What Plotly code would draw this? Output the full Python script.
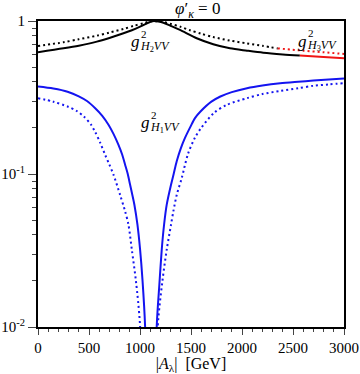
import plotly.graph_objects as go

# g^2_{H1VV} solid (blue)
h1_solid_A = [0, 150, 290, 400, 480, 561, 630, 691, 740, 789, 825, 854, 880, 903, 925, 945, 975, 1001, 1025, 1050, 1107,
              1164, 1190, 1213, 1236, 1262, 1304, 1330, 1360, 1400, 1441, 1495, 1539, 1593, 1700, 1788, 1900, 2049,
              2200, 2374, 2550, 2700, 2850, 3000]
h1_solid_v = [0.373, 0.362, 0.345, 0.322, 0.300, 0.269, 0.240, 0.210, 0.183, 0.155, 0.134, 0.115, 0.100, 0.085, 0.073,
              0.063, 0.0466, 0.032, 0.020, 0.0101, 0.0001,
              0.0101, 0.019, 0.032, 0.0466, 0.063, 0.085, 0.100, 0.121, 0.147, 0.172, 0.204, 0.232, 0.256, 0.297, 0.321,
              0.343, 0.364, 0.379, 0.392, 0.401, 0.408, 0.415, 0.421]

# g^2_{H1VV} dotted (blue)
h1_dot_A = [0, 150, 290, 380, 452, 520, 561, 610, 659, 700, 740, 805, 854, 887, 920, 960, 1001, 1090,
            1174, 1220, 1262, 1304, 1327, 1360, 1409, 1470, 1539, 1600, 1723, 1850, 2049, 2200, 2374, 2550, 2700,
            2850, 3000]
h1_dot_v = [0.313, 0.297, 0.276, 0.258, 0.237, 0.210, 0.188, 0.160, 0.133, 0.115, 0.099, 0.073, 0.057, 0.0466, 0.032,
            0.020, 0.0101, 0.0001,
            0.0101, 0.020, 0.032, 0.0466, 0.057, 0.073, 0.094, 0.135, 0.173, 0.200, 0.250, 0.283, 0.313, 0.333, 0.349,
            0.364, 0.377, 0.385, 0.392]

# g^2_{H2VV} solid (black)
h2_solid_A = [0, 250, 400, 577, 700, 838, 920, 1001, 1060, 1125, 1180, 1229, 1300, 1392, 1556, 1718, 1882, 2050,
              2208, 2400, 2567]
h2_solid_v = [0.625, 0.663, 0.690, 0.733, 0.775, 0.831, 0.870, 0.918, 0.960, 0.997, 0.992, 0.975, 0.930, 0.874, 0.771,
              0.705, 0.663, 0.640, 0.621, 0.605, 0.594]

# g^2_{H2VV} dotted (black)
h2_dot_A = [0, 250, 400, 577, 700, 838, 940, 1033, 1100, 1160, 1230, 1294, 1400, 1490, 1600, 1718, 1880, 2045, 2200,
            2350]
h2_dot_v = [0.687, 0.726, 0.760, 0.802, 0.840, 0.887, 0.930, 0.966, 0.995, 0.997, 0.985, 0.960, 0.915, 0.870, 0.825,
            0.785, 0.745, 0.715, 0.688, 0.662]

# g^2_{H3VV} (red)
h3_solid_A = [2567, 2800, 3000]
h3_solid_v = [0.594, 0.582, 0.570]
h3_dot_A = [2350, 2600, 2800, 3000]
h3_dot_v = [0.662, 0.640, 0.625, 0.609]

x_ticks = [0, 500, 1000, 1500, 2000, 2500, 3000]
y_ticks = [0.01, 0.1, 1]
y_ticktext = ["10<sup>-2</sup>", "10<sup>-1</sup>", "1"]

BLUE = "#1414f0"
RED = "#f01414"
BLACK = "#000000"
DOT = "2px,3px"

W, H = 360, 374
ML, MR, MT, MB = 38, 16, 21, 47
PW, PH = W - ML - MR, H - MT - MB

fig = go.Figure()


def add(xs, ys, color, dash):
    fig.add_trace(go.Scatter(x=xs, y=ys, mode="lines",
                             line=dict(color=color, width=2, dash=dash, shape="spline", smoothing=0.8),
                             showlegend=False, hoverinfo="skip"))


add(h1_dot_A, h1_dot_v, BLUE, DOT)
add(h1_solid_A, h1_solid_v, BLUE, "solid")
add(h2_dot_A, h2_dot_v, BLACK, DOT)
add(h2_solid_A, h2_solid_v, BLACK, "solid")
add(h3_dot_A, h3_dot_v, RED, DOT)
add(h3_solid_A, h3_solid_v, RED, "solid")

FONT = "Liberation Serif"

minor_y = [k * 0.01 for k in range(2, 10)] + [k * 0.1 for k in range(2, 10)]

fig.update_layout(
    width=W, height=H,
    margin=dict(l=ML, r=MR, t=MT, b=MB),
    paper_bgcolor="white", plot_bgcolor="white",
    font=dict(family=FONT, size=15, color="black"),
    showlegend=False,
    xaxis=dict(range=[0, 3000], tickvals=x_ticks, ticks="outside", ticklen=6, tickwidth=1, automargin=False,
               showline=True, linewidth=2, linecolor="black", mirror=True, showgrid=False, zeroline=False,
               minor=dict(dtick=100, ticks="outside", ticklen=3, tickwidth=1, showgrid=False),
               title=dict(text="|<i>A</i><sub>λ</sub>|  [GeV]", standoff=3, font=dict(size=16)),
               tickfont=dict(size=15)),
    yaxis=dict(type="log", range=[-2, 0], tickvals=y_ticks, ticktext=y_ticktext, ticks="outside", ticklen=8,
               tickwidth=1, showline=True, linewidth=2, linecolor="black", mirror=True, showgrid=False,
               zeroline=False, automargin=False,
               minor=dict(tickvals=minor_y, ticks="outside", ticklen=4, tickwidth=1, showgrid=False),
               tickfont=dict(size=15)),
)


def px_ann(X, Y, text, size, xanchor="left", yanchor="middle", align="left"):
    """Place text at pixel position (X, Y) of the page."""
    fig.add_annotation(x=(X - ML) / PW, y=1 - (Y - MT) / PH, xref="paper", yref="paper",
                       xanchor=xanchor, yanchor=yanchor, text=text, showarrow=False, align=align,
                       font=dict(size=size), borderpad=0)


# title
px_ann(197, 10, "<i>φ</i>′<sub><i>κ</i></sub> = 0", 17, xanchor="center")


def glabel(Xg, Yg, idx):
    px_ann(Xg, Yg, "<i>g</i>", 17)
    px_ann(Xg + 9, Yg - 1,
           "<span style='font-size:11px'>2</span><br>"
           "<span style='font-size:12px'><i>H</i><sub>%s</sub><i>VV</i></span>" % idx, 9)


glabel(130, 42, "2")
glabel(297, 41, "3")
glabel(140, 123, "1")

fig.write_html("out.html", config={"displayModeBar": False, "staticPlot": True},
               post_script="document.body.style.margin='0';document.body.style.overflow='hidden';")
